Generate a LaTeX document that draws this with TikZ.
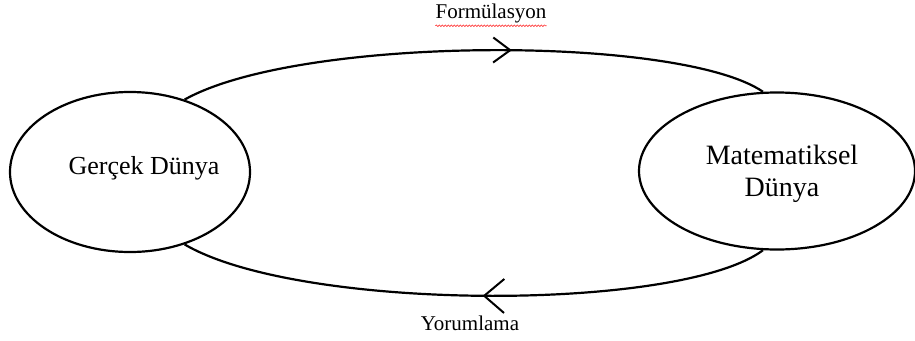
\documentclass[tikz,border=0pt]{standalone}
\usepackage{fontspec}
\setmainfont{Liberation Serif}
\usetikzlibrary{shapes.geometric,arrows.meta,decorations.markings,decorations.pathmorphing}
\tikzset{barbtip/.tip={Straight Barb[length=17pt,width=25pt,line width=2pt]},
  barbtipb/.tip={Straight Barb[length=20pt,width=34pt,line width=2pt]}}
\begin{document}
\begin{tikzpicture}[x=1pt,y=-1pt,
  world/.style={ellipse,draw,line width=2.2pt,inner sep=0pt},
  flow/.style={line width=2.2pt},
  lbl/.style={font=\fontsize{21}{25}\selectfont,inner sep=0pt}]
\useasboundingbox (0,0) rectangle (915,340);
\node[world,minimum width=240pt,minimum height=160pt] (L) at (130,172) {};
\node[font=\fontsize{26}{31}\selectfont] (Lt) at (144,168) {Gerçek Dünya};
\node[world,minimum width=276pt,minimum height=157pt] (R) at (777,171) {};
\node[font=\fontsize{28}{32}\selectfont,align=center] (Rt) at (782,174) {Matematiksel\\Dünya};
\node[lbl] (F) at (491,13) {Formülasyon};
\node[lbl] (Y) at (470,323) {Yorumlama};
\draw[red!80,line width=0.6pt,decorate,decoration={snake,segment length=3pt,amplitude=0.8pt}]
  ([yshift=-3pt]F.south west) -- ([yshift=-3pt]F.south east);
\draw[flow,decoration={markings,mark=at position 0.565 with {\arrow{barbtip}}},postaction={decorate}]
  (L.53) .. controls (300,35) and (680,35) .. (R.100);
\draw[flow,decoration={markings,mark=at position 0.515 with {\arrowreversed{barbtipb}}},postaction={decorate}]
  (L.-53) .. controls (300,312) and (680,312) .. (R.-100);
\end{tikzpicture}
\end{document}
